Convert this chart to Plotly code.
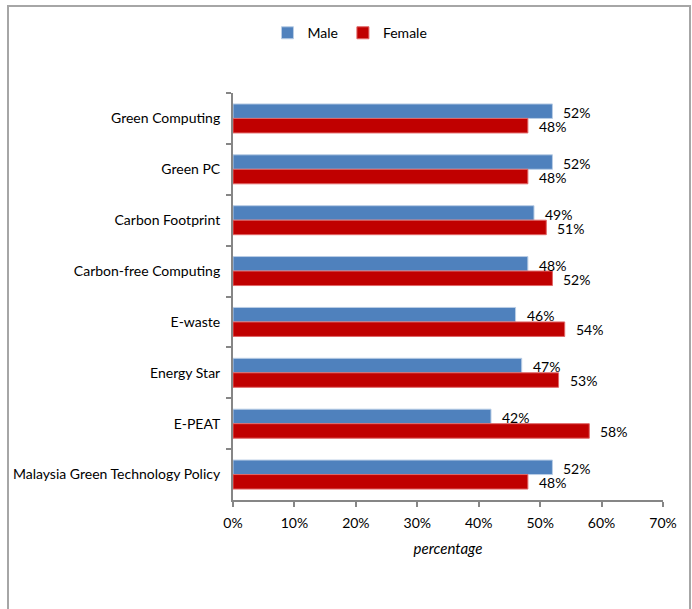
import plotly.graph_objects as go

categories = ["Green Computing", "Green PC", "Carbon Footprint", "Carbon-free Computing",
              "E-waste", "Energy Star", "E-PEAT", "Malaysia Green Technology Policy"]
male = [0.52, 0.52, 0.49, 0.48, 0.46, 0.47, 0.42, 0.52]
female = [0.48, 0.48, 0.51, 0.52, 0.54, 0.53, 0.58, 0.48]
x_ticks = [0, 0.1, 0.2, 0.3, 0.4, 0.5, 0.6, 0.7]
x_tick_labels = ["0%", "10%", "20%", "30%", "40%", "50%", "60%", "70%"]

FONT = "Lato, 'Open Sans', sans-serif"

fig = go.Figure()
fig.add_trace(go.Bar(name="Male", y=categories, x=male, orientation="h",
                     marker=dict(color="#4F81BD", line=dict(color="#B9CDE5", width=1))))
fig.add_trace(go.Bar(name="Female", y=categories, x=female, orientation="h",
                     marker=dict(color="#C00000", line=dict(color="#E06666", width=1))))

annotations = []
for c, m, f in zip(categories, male, female):
    annotations.append(dict(x=m, y=c, xref="x", yref="y", text=f"{m:.0%}", showarrow=False,
                            xanchor="left", yanchor="middle", xshift=9, yshift=6,
                            font=dict(family=FONT, size=14, color="#000")))
    annotations.append(dict(x=f, y=c, xref="x", yref="y", text=f"{f:.0%}", showarrow=False,
                            xanchor="left", yanchor="middle", xshift=9, yshift=-8,
                            font=dict(family=FONT, size=14, color="#000")))

fig.update_layout(
    width=692, height=609,
    margin=dict(l=233, r=29, t=93, b=109),
    paper_bgcolor="white", plot_bgcolor="white",
    barmode="group", bargap=0.43, bargroupgap=0,
    font=dict(family=FONT, size=14, color="#000"),
    legend=dict(orientation="h", x=0.272, y=1.147, xanchor="center", yanchor="middle",
                font=dict(family=FONT, size=14), itemwidth=30, traceorder="normal"),
    annotations=annotations,
    xaxis=dict(range=[0, 0.7], tickvals=x_ticks, ticktext=x_tick_labels,
               showgrid=False, zeroline=False, showline=True, linecolor="#868686", linewidth=2,
               ticks="outside", ticklen=5, tickcolor="#868686", tickwidth=1.5,
               ticklabelstandoff=4,
               title=dict(text="<i>percentage</i>", font=dict(family=FONT, size=15), standoff=14)),
    yaxis=dict(autorange="reversed", showgrid=False, showline=True, linecolor="#868686", linewidth=2,
               ticks="outside", ticklen=5, tickcolor="#868686", tickwidth=1.5,
               tickson="boundaries", ticklabelstandoff=8),
    shapes=[dict(type="rect", xref="paper", yref="paper",
                 x0=(8 - 233) / 430, x1=(690 - 233) / 430,
                 y0=(500 - 620) / 407, y1=(500 - 6) / 407,
                 line=dict(color="#A6A6A6", width=2), fillcolor="rgba(0,0,0,0)", layer="below")],
)

fig.write_html("out.html", config={"displayModeBar": False},
               post_script="document.body.style.margin='0';")
